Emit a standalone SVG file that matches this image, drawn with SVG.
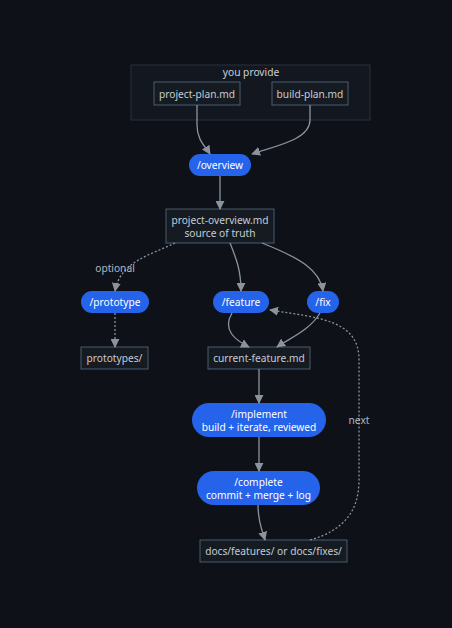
<svg xmlns="http://www.w3.org/2000/svg" width="452" height="628" viewBox="0 0 452 628">
<defs>
<marker id="arr" viewBox="0 0 10 10" refX="9" refY="5" markerWidth="9" markerHeight="9" markerUnits="userSpaceOnUse" orient="auto">
<path d="M0,0 L10,5 L0,10 z" fill="#8b949e"/>
</marker>
<style>
text{font-family:"Noto Sans","Liberation Sans",sans-serif;font-size:10.2px;text-anchor:middle;dominant-baseline:central}
.box rect{fill:#161b22;stroke:#4b5d70;stroke-width:1}
.box text{fill:#c4ccd4}
.pill rect{fill:#2563eb}
.pill text{fill:#ffffff}
.e{fill:none;stroke:#8b949e;stroke-width:1.3;marker-end:url(#arr)}
.d{stroke-dasharray:2 2}
.lbl{fill:#b0b8c2}
</style>
</defs>
<rect width="452" height="628" fill="#0e1117"/>
<g id="cluster-you-provide">
<rect x="131" y="65" width="239" height="55" fill="#131820" stroke="#2a313b"/>
<text x="251" y="71.5" fill="#c9d1d9">you provide</text>
</g>
<g id="project-plan" class="box"><rect x="154" y="82" width="86" height="23"/><text x="197" y="93.5">project-plan.md</text></g>
<g id="build-plan" class="box"><rect x="272" y="82" width="76" height="23"/><text x="310" y="93.5">build-plan.md</text></g>
<g id="overview" class="pill"><rect x="189" y="154" width="62" height="22" rx="11"/><text x="220" y="165">/overview</text></g>
<g id="project-overview" class="box"><rect x="166" y="209" width="108" height="34"/><text x="220" y="219.5">project-overview.md</text><text x="220" y="233">source of truth</text></g>
<g id="prototype" class="pill"><rect x="81" y="291" width="68" height="22" rx="11"/><text x="115" y="302">/prototype</text></g>
<g id="feature" class="pill"><rect x="213" y="291" width="56" height="22" rx="11"/><text x="241" y="302">/feature</text></g>
<g id="fix" class="pill"><rect x="307" y="291" width="32" height="22" rx="11"/><text x="323" y="302">/fix</text></g>
<g id="prototypes" class="box"><rect x="81" y="347" width="67" height="22"/><text x="114.5" y="358">prototypes/</text></g>
<g id="current-feature" class="box"><rect x="208" y="347" width="102" height="22"/><text x="259" y="358">current-feature.md</text></g>
<g id="implement" class="pill"><rect x="192" y="403" width="134" height="34" rx="17"/><text x="259" y="414">/implement</text><text x="259" y="426.5">build + iterate, reviewed</text></g>
<g id="complete" class="pill"><rect x="197" y="471" width="123" height="34" rx="17"/><text x="258.5" y="482">/complete</text><text x="258.5" y="494.5">commit + merge + log</text></g>
<g id="docs" class="box"><rect x="200" y="540" width="147" height="22"/><text x="273.5" y="551">docs/features/ or docs/fixes/</text></g>
<g id="connectors">
<path class="e" d="M197,105 L197,125 C197,140 205,146 210,154"/>
<path class="e" d="M310,105 L310,120 C310,140 275,146 252,154"/>
<path class="e" d="M220,176 L220,209"/>
<path class="e d" d="M175,243 C150,255 120,262 115,291"/>
<path class="e" d="M230,243 C236,258 241,270 241,291"/>
<path class="e" d="M262,243 C300,258 320,270 323,291"/>
<path class="e d" d="M115,313 L115,347"/>
<path class="e" d="M232,313 C222,330 235,340 249,347"/>
<path class="e" d="M320,313 C310,330 290,338 277,347"/>
<path class="e" d="M259,369 L259,403"/>
<path class="e" d="M259,437 L259,471"/>
<path class="e" d="M258,505 C258,522 262,530 265,540"/>
<path class="e d" d="M310,540 C345,530 359,510 359,480 L359,360 C359,320 320,318 270,310"/>
<text class="lbl" x="115" y="268">optional</text>
<text class="lbl" x="359" y="420">next</text>
</g>
</svg>
